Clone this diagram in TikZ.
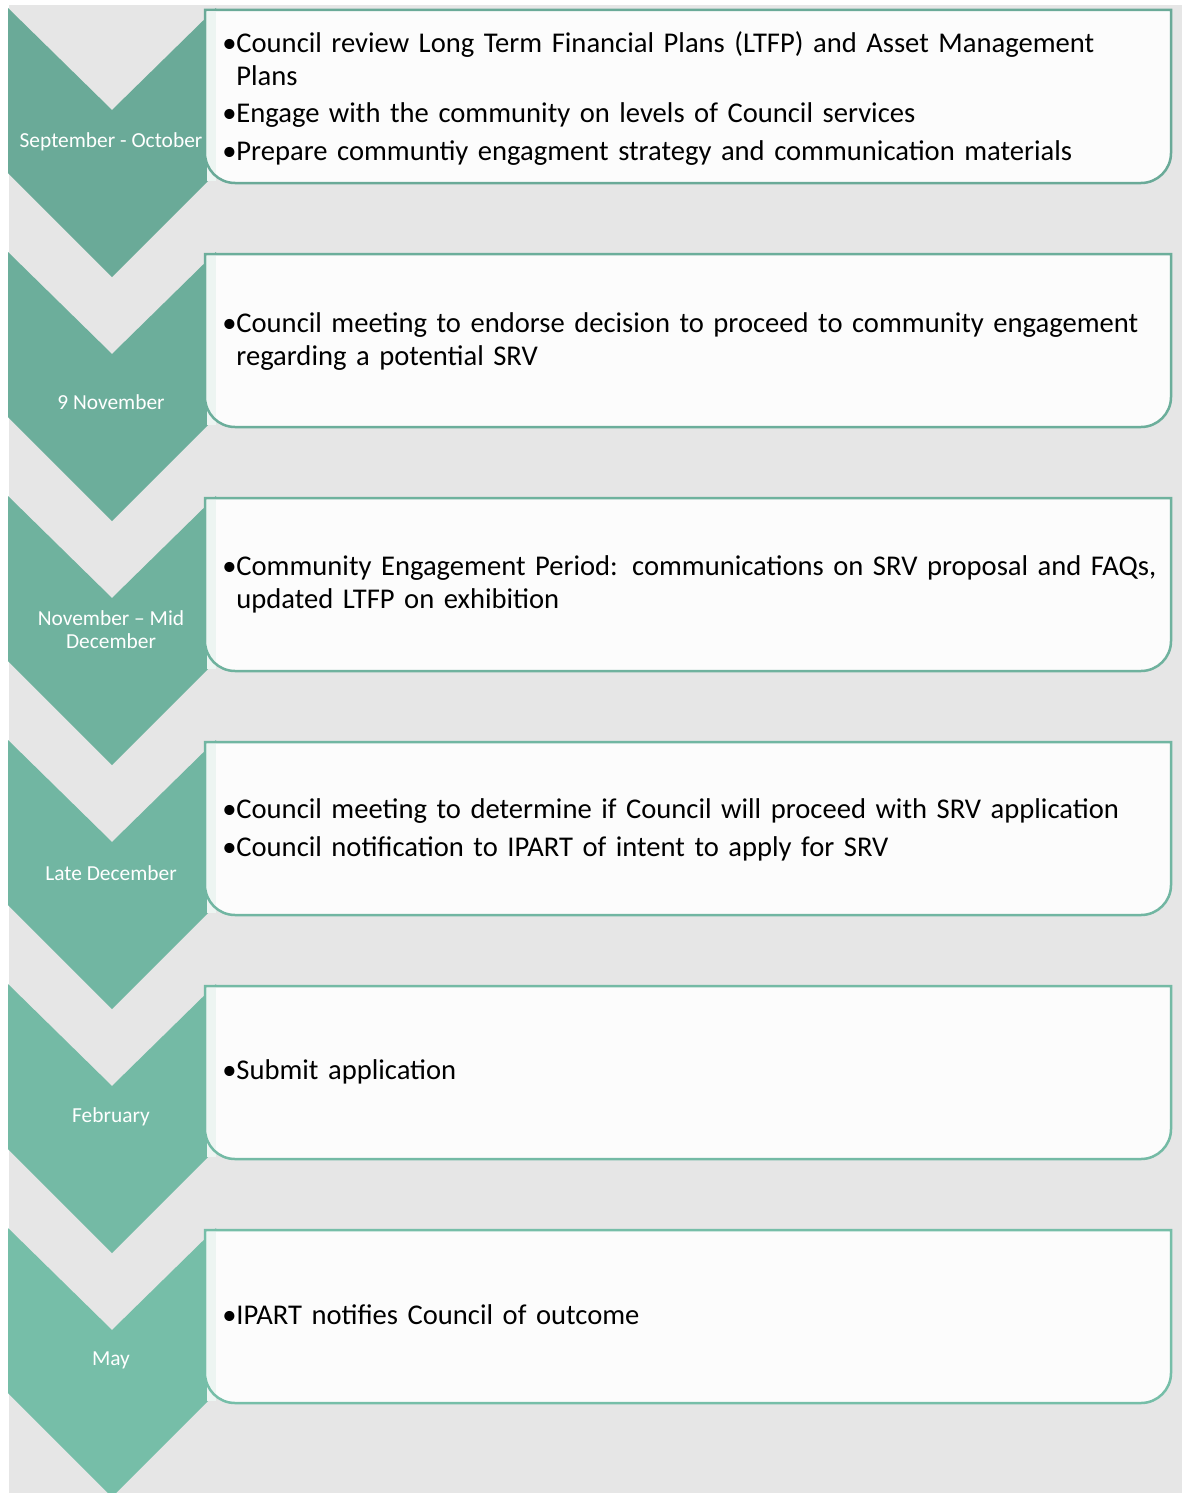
\documentclass[tikz,border=0pt]{standalone}
\usepackage{fontspec}
\setmainfont{Carlito}
\definecolor{bggray}{HTML}{E6E6E6}
\definecolor{chevtop}{HTML}{6AAA98}
\definecolor{chevbot}{HTML}{76BEA8}
\definecolor{boxfill}{HTML}{FCFCFC}
\definecolor{boxstrip}{HTML}{EDF5F2}
\tikzset{
  monthlbl/.style={text=white,font=\fontsize{10.7}{11.5}\selectfont,align=center,inner sep=0pt},
  itemtxt/.style={anchor=west,text width=500pt,align=left,inner sep=0pt,
    font=\fontsize{14.3}{16.5}\selectfont},
}
\newcommand{\bitem}[1]{\par\hangindent=7pt\hangafter=1\noindent\makebox[7pt][l]{\textbullet}#1\par}

\begin{document}
\begin{tikzpicture}[x=0.5pt,y=-0.5pt]
\useasboundingbox (0,0) rectangle (1182,1493);
\fill[bggray](9,5) rectangle (1182,1493);
% chevrons and boxes
\foreach \k in {0,...,5}{
  \pgfmathsetmacro\T{8+244*\k}
  \pgfmathsetmacro\B{10+244*\k}
  \pgfmathtruncatemacro\mix{100-20*\k}
  \colorlet{cur}{chevtop!\mix!chevbot}
  \fill[cur](8,\T)--(112,\T+102)--(216,\T)--(216,\T+165)--(112,\T+269)--(8,\T+165)--cycle;
  \fill[boxfill](205,\B)--(1171,\B)[rounded corners=15pt]--(1171,\B+173)--(205,\B+173)[sharp corners]--cycle;
  \fill[boxstrip](207,\B+2) rectangle (216,\B+171);
  \draw[cur,line width=1.25pt](205,\B)--(1171,\B)[rounded corners=15pt]--(1171,\B+173)--(205,\B+173)[sharp corners]--cycle;
}
% month labels
\node[monthlbl] (lbl1) at (111,142) {September - October};
\node[monthlbl] (lbl2) at (111,402) {9 November};
\node[monthlbl] (lbl3) at (111,630) {November -- Mid\\December};
\node[monthlbl] (lbl4) at (111,873) {Late December};
\node[monthlbl] (lbl5) at (111,1117) {February};
\node[monthlbl] (lbl6) at (111,1360) {May};
% box texts
\node[itemtxt] (txt1) at (222,90) {\setlength{\parskip}{2.2pt}%
  \bitem{Council review Long Term Financial Plans (LTFP) and Asset Management\newline Plans}
  \bitem{Engage with the community on levels of Council services}
  \bitem{Prepare communtiy engagment strategy and communication materials}};
\node[itemtxt] (txt2) at (222,335) {%
  \bitem{Council meeting to endorse decision to proceed to community engagement\newline regarding a potential SRV}};
\node[itemtxt] (txt3) at (222,578) {%
  \bitem{Community Engagement Period: communications on SRV proposal and FAQs,\newline updated LTFP on exhibition}};
\node[itemtxt] (txt4) at (222,821) {\setlength{\parskip}{2.2pt}%
  \bitem{Council meeting to determine if Council will proceed with SRV application}
  \bitem{Council notification to IPART of intent to apply for SRV}};
\node[itemtxt] (txt5) at (222,1065) {\bitem{Submit application}};
\node[itemtxt] (txt6) at (222,1308) {\bitem{IPART notifies Council of outcome}};
\end{tikzpicture}
\end{document}
